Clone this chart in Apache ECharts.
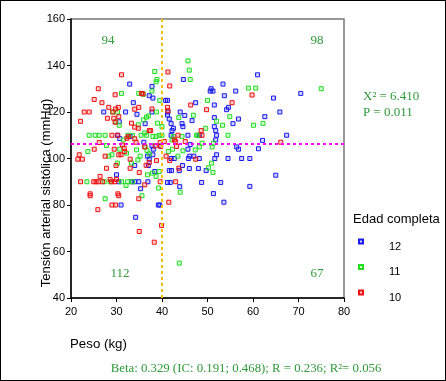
<!DOCTYPE html>
<html><head><meta charset="utf-8">
<script src="https://cdn.jsdelivr.net/npm/echarts@6/dist/echarts.min.js"></script>
<style>html,body{margin:0;padding:0;background:#fff}#c{width:446px;height:381px;position:relative}#f{position:absolute;left:0;top:0;width:446px;height:381px;box-sizing:border-box;border:1px solid #000;pointer-events:none}</style>
</head><body><div id="c"></div><div id="f"></div>
<script>
// Edad completa 12 (blue): [Peso kg, Tension mmHg]
const age12 = [[61.0,136],[32.9,132],[37.8,131],[53.4,132],[44.7,134],[50.8,130],[50.6,129],[51.2,129],[56.2,129],[53.7,127],[38.0,126],[37.2,127],[40.8,125],[41.2,125],[33.7,124],[47.4,124],[51.5,123],[54.6,122],[54.2,121],[64.5,126],[70.5,128],[65.9,120],[62.6,118],[56.8,117],[55.6,115],[27.2,120],[32.0,120],[37.8,120],[44.0,120],[45.0,118.5],[41.3,120],[41.2,118.7],[34.5,119],[41.6,117],[42.0,115],[42.5,113],[44.4,115],[44.6,113.7],[36.3,115],[30.6,115.8],[46.6,116.3],[51.5,117.6],[51.5,113.7],[51.8,112],[42.2,112],[42.0,110],[45.7,110],[30.2,110],[48.2,110],[52.0,110],[51.8,108],[67.4,110],[62.1,107.8],[61.2,104.2],[46.2,106],[45.7,104],[56.8,104],[56.4,105],[36.0,107],[37.8,105.4],[39.7,105.4],[38.1,104],[30.7,108.6],[33.0,109.5],[38.0,101.6],[36.8,101],[37.2,99.7],[42.0,100],[42.7,100],[45.8,100],[46.1,101],[47.0,101],[48.2,100],[52.0,101.6],[51.6,100],[54.5,100],[57.5,100],[59.3,100],[34.0,97],[37.0,97],[44.5,97],[46.0,95.7],[48.0,95.7],[49.7,94.8],[38.4,94.4],[41.6,94.8],[42.1,94.8],[43.8,94.8],[30.0,93],[65.0,92.8],[30.5,90],[33.3,90],[34.0,90],[34.9,90],[36.9,90],[41.2,89.7],[41.8,89.7],[48.7,89.7],[52.9,89.7],[59.3,88],[35.3,87],[43.9,87.9],[51.3,84.9],[53.6,81.2],[31.0,80],[39.2,80],[39.5,80],[34.2,74.7]];
// Edad completa 11 (green)
const age11 = [[45.7,142],[46.0,138],[46.2,134],[38.4,137.4],[38.7,133],[38.9,134],[31.1,128],[34.9,128],[37.8,129],[35.9,127.6],[39.5,125],[50.0,125],[59.0,130.3],[60.6,130.3],[75.0,130],[43.7,117.6],[46.9,118.6],[54.9,118],[60.1,114.3],[62.2,115.1],[52.0,116],[53.3,114.3],[49.6,113],[54.5,110],[47.9,110],[24.0,110],[25.3,110],[26.2,110],[27.5,110],[29.1,120],[30.2,120],[29.8,115.8],[30.6,114.3],[36.6,117.8],[37.0,118.3],[35.9,116.6],[34.8,114.5],[36.2,111],[38.8,120],[39.0,115.2],[40.0,113.7],[31.5,108],[32.5,110],[33.5,110],[35.4,110],[36.6,110],[38.0,109.5],[38.7,109.5],[39.4,110],[40.0,110],[42.5,109.5],[42.2,108],[44.4,109.5],[47.6,110],[48.8,106.6],[48.2,105],[51.0,105],[51.3,106.6],[27.8,105.6],[23.7,103],[29.0,101.6],[28.3,101],[30.7,104],[34.4,103.7],[36.3,105],[36.7,103.4],[37.2,102],[41.4,103],[42.3,104],[44.6,103.3],[43.5,101],[47.3,103.7],[32.2,102.3],[33.3,98],[34.7,99.4],[35.2,101],[30.2,98],[50.2,96],[50.9,98],[51.2,94],[36.8,93],[37.9,93.7],[38.7,92.3],[39.4,94.4],[39.2,87.3],[23.5,90],[27.3,90],[28.6,90],[31.1,90],[32.1,88.4],[32.4,90],[33.5,90],[35.6,84],[44.0,85.5],[27.5,82.7],[43.8,55]];
// Edad completa 10 (red)
const age10 = [[31.1,136],[41.3,137.2],[41.7,131.2],[26.0,130],[29.7,127.4],[35.5,128],[35.8,127.8],[25.1,125.4],[26.8,124],[59.8,127.3],[55.4,124],[46.3,123],[49.8,121],[22.9,120],[24.0,120],[22.1,116],[28.3,122],[29.2,120],[29.8,121.3],[30.4,122],[30.5,118],[28.0,117.3],[29.4,117.3],[29.7,115.6],[34.9,122],[34.0,121.2],[37.8,121.3],[41.2,122],[41.3,120.5],[33.3,115.2],[34.0,113.5],[34.8,113],[37.2,112],[37.5,112],[43.5,110],[48.6,112],[48.8,110],[29.0,110],[30.3,110],[32.3,108.7],[32.6,109.4],[34.0,108.5],[34.3,107],[31.3,105.8],[31.7,104.4],[25.1,104],[26.2,106.9],[29.5,104],[31.8,103],[31.0,101.6],[30.5,101.6],[27.5,101],[21.8,101.6],[21.5,99.7],[22.5,99.7],[33.0,99.7],[36.2,105],[38.5,105.4],[39.6,106.9],[39.7,105.2],[40.5,107.3],[42.7,108],[43.0,107.3],[43.2,105.2],[45.1,107.3],[66.1,107],[38.8,99.1],[40.9,101],[41.7,99.1],[47.4,99.7],[29.9,97],[27.8,95.8],[35.0,94],[33.0,95.8],[36.5,97.1],[37.2,98.3],[43.7,95.8],[22.1,90],[25.0,90],[25.5,90],[26.0,90],[26.9,90],[26.4,92.3],[28.6,91],[28.9,90],[29.6,90],[30.0,91],[43.0,90],[39.6,90],[36.2,88.7],[24.2,84.8],[24.2,84],[30.3,84.8],[30.5,84],[34.9,82.7],[41.5,81.2],[29.0,80],[29.8,80],[25.9,78],[35.0,68.6],[38.3,64],[39.9,71.2]];

const seriesNames = ['12','11','10'];
const seriesColors = ['#1a1aee','#22dd22','#ee1111'];
const seriesFills = ['rgba(26,26,238,0.2)','rgba(34,221,34,0.2)','rgba(238,17,17,0.2)'];
const refX = 40;      // Peso cut
const refY = 106.4;   // Tension cut
const quadrantCounts = ['94','98','112','67'];
const statLines = ['X\u00b2 = 6.410','P = 0.011'];
const bottomText = 'Beta: 0.329 (IC: 0.191; 0.468); R = 0.236; R\u00b2= 0.056';
const xName = 'Peso (kg)';
const yName = 'Tensi\u00f3n arterial sist\u00f3lica (mmHg)';
const legendTitle = 'Edad completa';

const chart = echarts.init(document.getElementById('c'), null, {renderer:'canvas'});
const sans = 'Liberation Sans, Arial, sans-serif';
const serif = 'Liberation Serif, Times New Roman, serif';
const green = '#2f9a3a';
const datasets = [age12, age11, age10];

const series = datasets.map((d,i) => ({
  name: seriesNames[i], type:'scatter', data:d, symbol:'rect', symbolSize:4,
  itemStyle:{color:seriesFills[i], borderColor:seriesColors[i], borderWidth:1, opacity:1},
  emphasis:{disabled:true}, z: 3
}));
series[0].markLine = {
  silent:true, symbol:['none','none'], label:{show:false}, animation:false,
  data:[
    {xAxis:refX, lineStyle:{color:'#f5c000', type:[3,3], width:2}},
    {yAxis:refY, lineStyle:{color:'#ff00ff', type:[3,3], width:2}}
  ]
};

const qPos = [[108,41],[317,41],[120,274],[317,274]];
const graphic = [];
quadrantCounts.forEach((t,i)=>graphic.push({type:'text', x:qPos[i][0], y:qPos[i][1], style:{text:t, font:'13px '+serif, fill:green, textAlign:'center', textVerticalAlign:'middle'}}));
statLines.forEach((t,i)=>graphic.push({type:'text', x:363, y:97+i*16, style:{text:t, font:'13px '+serif, fill:green, textAlign:'left', textVerticalAlign:'middle'}}));
graphic.push({type:'text', x:246, y:369, style:{text:bottomText, font:'12.8px '+serif, fill:green, textAlign:'center', textVerticalAlign:'middle'}});
graphic.push({type:'text', x:70, y:344, style:{text:xName, font:'13.3px '+sans, fill:'#000', textAlign:'left', textVerticalAlign:'middle'}});
graphic.push({type:'text', x:46, y:193, rotation:Math.PI/2, style:{text:yName, font:'13px '+sans, fill:'#000', textAlign:'center', textVerticalAlign:'middle'}});
graphic.push({type:'text', x:353, y:219, style:{text:legendTitle, font:'13px '+sans, fill:'#000', textAlign:'left', textVerticalAlign:'middle'}});

chart.setOption({
  animation:false,
  backgroundColor:'#fff',
  grid:{left:71, top:19, width:273, height:279, show:true, borderColor:'#777', borderWidth:1.5, backgroundColor:'transparent'},
  xAxis:{type:'value', min:20, max:80, interval:10,
    axisLine:{show:true, onZero:false, lineStyle:{color:'#000', width:1.5}},
    axisTick:{show:true, inside:false, length:4, lineStyle:{color:'#000'}},
    axisLabel:{fontSize:11, fontFamily:sans, color:'#000', margin:8},
    splitLine:{show:false}},
  yAxis:{type:'value', min:40, max:160, interval:20,
    axisLine:{show:true, onZero:false, lineStyle:{color:'#000', width:1.5}},
    axisTick:{show:true, inside:false, length:4, lineStyle:{color:'#000'}},
    axisLabel:{fontSize:11, fontFamily:sans, color:'#000', margin:6},
    splitLine:{show:false}},
  legend:{orient:'vertical', left:353, top:226, itemWidth:4, itemHeight:4, icon:'rect', itemGap:4.5,
    data:seriesNames, selectedMode:false,
    formatter:'{t|{name}}',
    textStyle:{fontSize:11, fontFamily:sans, color:'#000',
      rich:{t:{fontSize:11, fontFamily:sans, color:'#000', padding:[10,0,0,21], lineHeight:14}}}},
  graphic: graphic,
  series: series
});
</script></body></html>
